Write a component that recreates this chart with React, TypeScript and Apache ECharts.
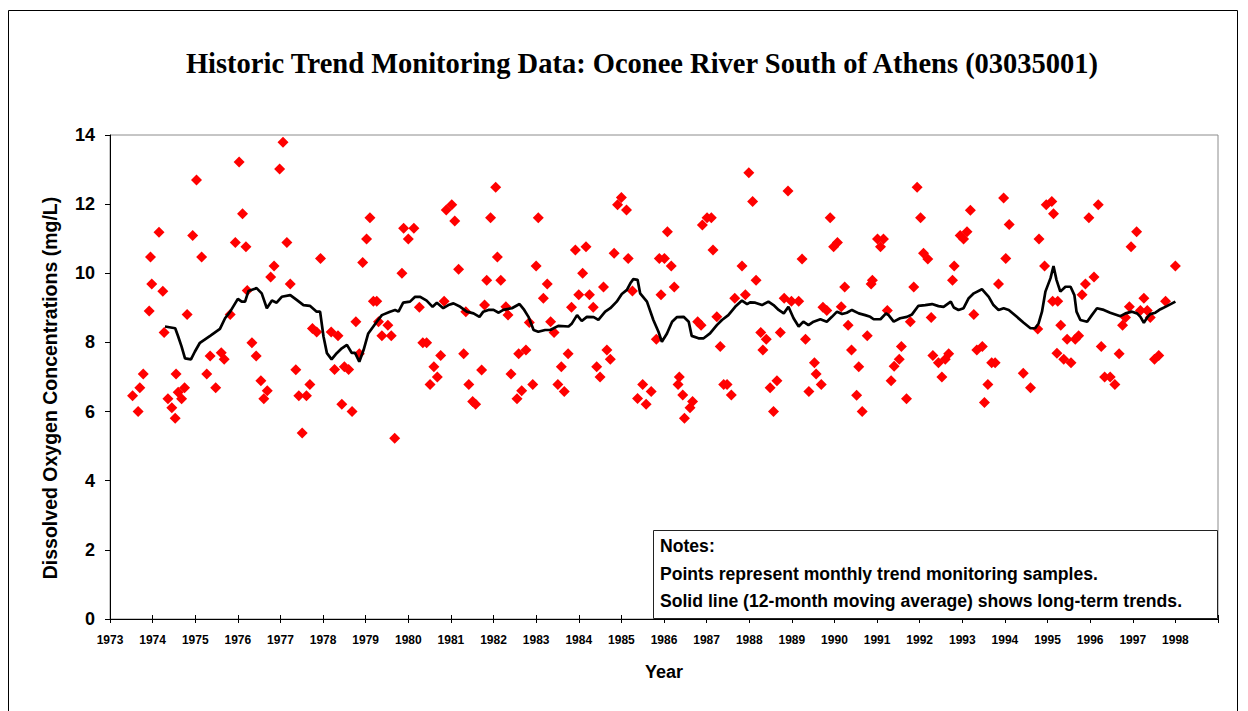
import React, { useEffect, useRef } from "react";
import * as echarts from "echarts";

const titleText = "Historic Trend Monitoring Data: Oconee River South of Athens (03035001)";
const yAxisTitle = "Dissolved Oxygen Concentrations (mg/L)";
const xAxisTitle = "Year";
const notesLines = [
  "Notes:",
  "Points represent monthly trend monitoring samples.",
  "Solid line (12-month moving average) shows long-term trends.",
];
const yTicks = [0, 2, 4, 6, 8, 10, 12, 14];
const yearMin = 1973;
const yearMax = 1999;

const sampleDates = [
  1973.53, 1973.66, 1973.70, 1973.78, 1973.92, 1973.95, 1973.98, 1974.15, 1974.24, 1974.27,
  1974.36, 1974.45, 1974.53, 1974.55, 1974.60, 1974.68, 1974.75, 1974.81, 1974.94, 1975.03,
  1975.15, 1975.27, 1975.35, 1975.48, 1975.61, 1975.68, 1975.82, 1975.94, 1976.03, 1976.11,
  1976.19, 1976.22, 1976.33, 1976.43, 1976.54, 1976.61, 1976.69, 1976.77, 1976.85, 1976.98,
  1977.06, 1977.15, 1977.23, 1977.36, 1977.43, 1977.51, 1977.61, 1977.69, 1977.75, 1977.85,
  1977.94, 1978.19, 1978.27, 1978.35, 1978.44, 1978.50, 1978.60, 1978.68, 1978.77, 1978.85,
  1978.93, 1979.02, 1979.10, 1979.18, 1979.26, 1979.30, 1979.38, 1979.52, 1979.60, 1979.68,
  1979.85, 1979.89, 1980.00, 1980.13, 1980.26, 1980.34, 1980.43, 1980.51, 1980.60, 1980.68,
  1980.76, 1980.84, 1980.89, 1981.02, 1981.09, 1981.18, 1981.30, 1981.35, 1981.42, 1981.51,
  1981.58, 1981.72, 1981.79, 1981.84, 1981.93, 1982.05, 1982.09, 1982.17, 1982.29, 1982.34,
  1982.41, 1982.55, 1982.59, 1982.66, 1982.76, 1982.84, 1982.92, 1983.00, 1983.05, 1983.17,
  1983.26, 1983.34, 1983.42, 1983.51, 1983.59, 1983.66, 1983.75, 1983.83, 1983.92, 1984.00,
  1984.09, 1984.17, 1984.25, 1984.34, 1984.42, 1984.50, 1984.58, 1984.66, 1984.74, 1984.83,
  1984.91, 1985.00, 1985.12, 1985.16, 1985.26, 1985.38, 1985.50, 1985.58, 1985.70, 1985.82,
  1985.89, 1985.93, 1986.01, 1986.08, 1986.17, 1986.24, 1986.33, 1986.36, 1986.44, 1986.48,
  1986.61, 1986.67, 1986.79, 1986.87, 1986.90, 1987.01, 1987.11, 1987.15, 1987.24, 1987.32,
  1987.40, 1987.48, 1987.58, 1987.66, 1987.83, 1987.91, 1987.99, 1988.08, 1988.16, 1988.27,
  1988.32, 1988.40, 1988.49, 1988.57, 1988.65, 1988.73, 1988.82, 1988.91, 1988.99, 1989.16,
  1989.24, 1989.32, 1989.40, 1989.53, 1989.57, 1989.69, 1989.73, 1989.82, 1989.90, 1989.98,
  1990.07, 1990.16, 1990.24, 1990.32, 1990.40, 1990.52, 1990.57, 1990.65, 1990.77, 1990.86,
  1990.89, 1991.01, 1991.08, 1991.15, 1991.24, 1991.33, 1991.40, 1991.52, 1991.57, 1991.69,
  1991.78, 1991.86, 1991.94, 1992.02, 1992.09, 1992.19, 1992.27, 1992.31, 1992.44, 1992.52,
  1992.60, 1992.68, 1992.77, 1992.81, 1992.95, 1993.03, 1993.11, 1993.19, 1993.27, 1993.34,
  1993.47, 1993.52, 1993.60, 1993.69, 1993.77, 1993.85, 1993.97, 1994.02, 1994.10, 1994.43,
  1994.60, 1994.77, 1994.80, 1994.93, 1994.97, 1995.10, 1995.14, 1995.12, 1995.24, 1995.22,
  1995.31, 1995.38, 1995.46, 1995.55, 1995.65, 1995.73, 1995.81, 1995.89, 1995.97, 1996.09,
  1996.19, 1996.26, 1996.34, 1996.47, 1996.58, 1996.68, 1996.76, 1996.83, 1996.92, 1996.96,
  1997.09, 1997.18, 1997.26, 1997.34, 1997.41, 1997.51, 1997.61, 1997.77, 1998.00,
];

const sampleDO = [
  6.46, 6.00, 6.69, 7.09, 8.91, 10.47, 9.69, 11.19, 9.48, 8.29,
  6.37, 6.11, 5.81, 7.09, 6.56, 6.37, 6.69, 8.81, 11.09, 12.70,
  10.47, 7.09, 7.61, 6.69, 7.70, 7.51, 8.81, 10.89, 13.22, 11.72,
  10.77, 9.50, 7.99, 7.61, 6.89, 6.37, 6.60, 9.89, 10.21, 13.02,
  13.79, 10.89, 9.69, 7.21, 6.46, 5.38, 6.46, 6.78, 8.40, 8.30,
  10.43, 8.30, 7.22, 8.19, 6.21, 7.30, 7.22, 6.00, 8.60, 7.67,
  10.31, 10.99, 11.61, 9.19, 9.19, 8.60, 8.19, 8.50, 8.19, 5.23,
  10.00, 11.30, 10.99, 11.30, 9.02, 7.99, 7.99, 6.78, 7.30, 7.00,
  7.62, 9.19, 11.83, 11.98, 11.51, 10.12, 7.67, 8.89, 6.78, 6.29,
  6.21, 7.20, 9.08, 9.80, 11.61, 12.49, 10.47, 9.80, 9.03, 8.79,
  7.09, 6.37, 7.67, 6.60, 7.78, 8.58, 6.78, 10.21, 11.61, 9.28,
  9.69, 8.60, 8.29, 6.78, 7.30, 6.58, 7.67, 9.02, 10.67, 9.38,
  10.00, 10.77, 9.38, 9.02, 7.30, 7.00, 9.60, 7.78, 7.51, 10.58,
  11.98, 12.19, 11.83, 10.43, 9.49, 6.38, 6.78, 6.21, 6.58, 8.09,
  10.43, 9.38, 10.43, 11.20, 10.21, 9.60, 6.78, 7.00, 6.48, 5.81,
  6.11, 6.29, 8.60, 8.50, 11.40, 11.61, 11.61, 10.67, 8.74, 7.88,
  6.78, 6.78, 6.48, 9.28, 10.21, 9.38, 12.91, 12.08, 9.80, 8.29,
  7.78, 8.09, 6.69, 6.00, 6.89, 8.29, 9.28, 12.38, 9.19, 9.19,
  10.41, 8.09, 6.58, 7.41, 7.09, 6.78, 9.02, 8.92, 11.61, 10.77,
  10.89, 9.03, 9.60, 8.50, 7.78, 6.47, 7.30, 6.00, 8.19, 9.69,
  9.80, 10.99, 10.77, 10.99, 8.92, 6.89, 7.31, 7.51, 7.88, 6.37,
  8.60, 9.60, 12.49, 11.61, 10.58, 10.41, 8.72, 7.62, 7.41, 7.00,
  7.51, 7.67, 9.80, 10.21, 11.09, 10.99, 11.20, 11.82, 8.81, 7.78,
  7.88, 6.26, 6.78, 7.41, 7.41, 9.69, 12.18, 10.43, 11.41, 7.11,
  6.69, 8.39, 10.99, 10.21, 11.98, 12.08, 11.72, 9.19, 9.19, 7.69,
  8.50, 7.51, 8.09, 7.41, 8.09, 8.19, 9.38, 9.69, 11.61, 9.89,
  11.98, 7.88, 7.00, 7.00, 6.78, 7.67, 8.50, 8.72, 9.03, 10.77,
  11.20, 8.92, 9.28, 8.92, 8.72, 7.51, 7.62, 9.19, 10.21,
];

const avgDates = [
  1974.29, 1974.53, 1974.60, 1974.68, 1974.76, 1974.90, 1974.99, 1975.11, 1975.35, 1975.58,
  1975.70, 1975.82, 1976.00, 1976.09, 1976.17, 1976.25, 1976.44, 1976.56, 1976.68, 1976.80,
  1976.91, 1977.03, 1977.23, 1977.38, 1977.54, 1977.69, 1977.85, 1977.93, 1978.01, 1978.09,
  1978.20, 1978.32, 1978.44, 1978.56, 1978.67, 1978.75, 1978.85, 1978.95, 1979.06, 1979.26,
  1979.38, 1979.57, 1979.69, 1979.77, 1979.88, 1980.04, 1980.16, 1980.28, 1980.43, 1980.57,
  1980.67, 1980.82, 1980.94, 1981.06, 1981.22, 1981.37, 1981.53, 1981.67, 1981.76, 1981.88,
  1982.00, 1982.12, 1982.23, 1982.43, 1982.61, 1982.72, 1982.82, 1982.94, 1983.05, 1983.21,
  1983.33, 1983.41, 1983.52, 1983.76, 1983.84, 1983.96, 1984.07, 1984.19, 1984.35, 1984.46,
  1984.62, 1984.74, 1984.89, 1985.01, 1985.13, 1985.21, 1985.28, 1985.38, 1985.44, 1985.60,
  1985.75, 1985.87, 1985.95, 1986.07, 1986.19, 1986.30, 1986.46, 1986.58, 1986.65, 1986.81,
  1986.93, 1987.08, 1987.24, 1987.36, 1987.51, 1987.67, 1987.83, 1987.95, 1988.02, 1988.14,
  1988.30, 1988.45, 1988.57, 1988.69, 1988.81, 1988.92, 1989.04, 1989.16, 1989.27, 1989.39,
  1989.51, 1989.67, 1989.82, 1989.94, 1990.06, 1990.18, 1990.29, 1990.41, 1990.57, 1990.72,
  1990.84, 1990.92, 1991.08, 1991.21, 1991.27, 1991.39, 1991.54, 1991.70, 1991.82, 1991.97,
  1992.13, 1992.29, 1992.44, 1992.56, 1992.73, 1992.80, 1992.91, 1993.03, 1993.15, 1993.27,
  1993.46, 1993.62, 1993.73, 1993.85, 1993.97, 1994.09, 1994.28, 1994.44, 1994.60, 1994.71,
  1994.79, 1994.87, 1994.95, 1995.07, 1995.14, 1995.21, 1995.30, 1995.42, 1995.54, 1995.63,
  1995.68, 1995.77, 1995.93, 1996.04, 1996.16, 1996.32, 1996.47, 1996.71, 1996.83, 1996.98,
  1997.10, 1997.18, 1997.26, 1997.35, 1997.41, 1997.53, 1997.65, 1997.80, 1998.00,
];

const avgDO = [
  8.46, 8.41, 8.17, 7.88, 7.54, 7.51, 7.73, 7.99, 8.19, 8.39,
  8.70, 8.89, 9.26, 9.18, 9.18, 9.49, 9.57, 9.42, 8.99, 9.21,
  9.15, 9.32, 9.37, 9.23, 9.08, 9.06, 8.89, 8.89, 8.17, 7.69,
  7.51, 7.69, 7.83, 7.93, 7.70, 7.70, 7.44, 7.78, 8.26, 8.60,
  8.79, 8.89, 8.94, 8.89, 9.15, 9.18, 9.32, 9.32, 9.21, 9.03,
  9.15, 8.99, 9.08, 9.13, 9.03, 8.89, 8.84, 8.74, 8.89, 8.94,
  8.94, 8.86, 8.94, 8.99, 9.11, 8.94, 8.74, 8.36, 8.31, 8.36,
  8.36, 8.41, 8.48, 8.46, 8.55, 8.79, 8.62, 8.74, 8.73, 8.65,
  8.89, 8.99, 9.18, 9.40, 9.52, 9.71, 9.83, 9.81, 9.42, 9.18,
  8.65, 8.31, 8.02, 8.26, 8.60, 8.73, 8.74, 8.60, 8.19, 8.12,
  8.12, 8.26, 8.50, 8.65, 8.79, 9.03, 9.21, 9.11, 9.16, 9.15,
  9.08, 9.18, 9.08, 8.94, 8.84, 9.03, 8.70, 8.46, 8.60, 8.50,
  8.60, 8.67, 8.60, 8.74, 8.89, 8.82, 8.86, 8.94, 8.84, 8.79,
  8.74, 8.67, 8.67, 8.84, 8.79, 8.60, 8.70, 8.74, 8.81, 9.06,
  9.08, 9.11, 9.05, 9.03, 9.18, 9.01, 8.94, 8.99, 9.28, 9.42,
  9.54, 9.32, 9.08, 8.94, 8.99, 8.94, 8.74, 8.57, 8.41, 8.41,
  8.55, 8.89, 9.47, 9.86, 10.21, 9.81, 9.47, 9.61, 9.61, 9.37,
  8.89, 8.65, 8.60, 8.79, 8.99, 8.94, 8.86, 8.76, 8.84, 8.89,
  8.84, 8.74, 8.57, 8.74, 8.82, 8.86, 8.96, 9.05, 9.18,
];

export default function App() {
  const ref = useRef<HTMLDivElement>(null);

  useEffect(() => {
    document.body.style.margin = "0";
    const chart = echarts.init(ref.current as HTMLDivElement, null, { renderer: "svg" });

    const sans = "Liberation Sans";
    const scatterData = sampleDates.map((d, i) => [d, sampleDO[i]]);
    const lineData = avgDates.map((d, i) => [d, avgDO[i]]);

    chart.setOption({
      animation: false,
      backgroundColor: "#ffffff",
      title: {
        text: titleText,
        left: 637,
        top: 44,
        textAlign: "center",
        textStyle: {
          fontFamily: "Liberation Serif",
          fontWeight: "bold",
          fontSize: 28.5,
          color: "#000",
        },
      },
      grid: {
        left: 110,
        top: 135,
        right: 30,
        bottom: 92,
        show: true,
        borderColor: "#8c8c8c",
        borderWidth: 1,
        backgroundColor: "transparent",
      },
      xAxis: [
        {
          type: "value",
          min: yearMin,
          max: yearMax,
          interval: 1,
          name: xAxisTitle,
          nameLocation: "middle",
          nameGap: 44,
          nameTextStyle: { fontFamily: sans, fontWeight: "bold", fontSize: 18, color: "#000" },
          axisLine: { show: true, lineStyle: { color: "#000", width: 1 } },
          axisTick: { show: true, length: 4, lineStyle: { color: "#000" } },
          splitLine: { show: false },
          axisLabel: {
            fontFamily: sans,
            fontWeight: "bold",
            fontSize: 12,
            color: "#000",
            margin: 15,
            formatter: (v: number) => (v >= yearMax ? "" : String(Math.round(v))),
          },
        },
        {
          type: "value",
          min: yearMin,
          max: yearMax,
          interval: 1,
          position: "bottom",
          offset: 0,
          axisLine: { show: false },
          axisTick: { show: true, inside: true, length: 4, lineStyle: { color: "#000" } },
          axisLabel: { show: false },
          splitLine: { show: false },
        },
      ],
      yAxis: {
        type: "value",
        min: yTicks[0],
        max: yTicks[yTicks.length - 1],
        interval: 2,
        name: yAxisTitle,
        nameLocation: "middle",
        nameGap: 50,
        nameRotate: 90,
        nameTextStyle: {
          fontFamily: sans,
          fontWeight: "bold",
          fontSize: 19.5,
          color: "#000",
          padding: [0, 22, 0, 0],
        },
        axisLine: { show: true, lineStyle: { color: "#000", width: 1 } },
        axisTick: { show: true, length: 5, lineStyle: { color: "#000" } },
        splitLine: { show: false },
        axisLabel: { fontFamily: sans, fontWeight: "bold", fontSize: 18, color: "#000", margin: 15 },
      },
      series: [
        {
          type: "scatter",
          name: "Monthly samples",
          data: scatterData,
          symbol: "diamond",
          symbolSize: 11,
          itemStyle: { color: "#ff0000", opacity: 1 },
          z: 2,
        },
        {
          type: "line",
          name: "12-month moving average",
          data: lineData,
          showSymbol: false,
          symbol: "none",
          lineStyle: { color: "#000", width: 2.7 },
          z: 3,
        },
      ],
      graphic: [
        {
          type: "rect",
          shape: { x: 8.5, y: 10.5, width: 1229, height: 720 },
          style: { fill: "none", stroke: "#000", lineWidth: 1 },
          silent: true,
          z: 0,
        },
        {
          type: "rect",
          shape: { x: 653.5, y: 530.5, width: 564, height: 88 },
          style: { fill: "#fff", stroke: "#222", lineWidth: 1 },
          z: 10,
        },
        ...notesLines.map((t, i) => ({
          type: "text",
          x: 660,
          y: 546 + i * 27.5,
          z: 11,
          style: {
            text: t,
            fontFamily: sans,
            fontWeight: "bold",
            fontSize: 17.6,
            fill: "#000",
            textVerticalAlign: "middle",
            verticalAlign: "middle",
          },
        })),
      ],
    });

    return () => chart.dispose();
  }, []);

  return <div ref={ref} style={{ width: 1248, height: 711 }} />;
}
